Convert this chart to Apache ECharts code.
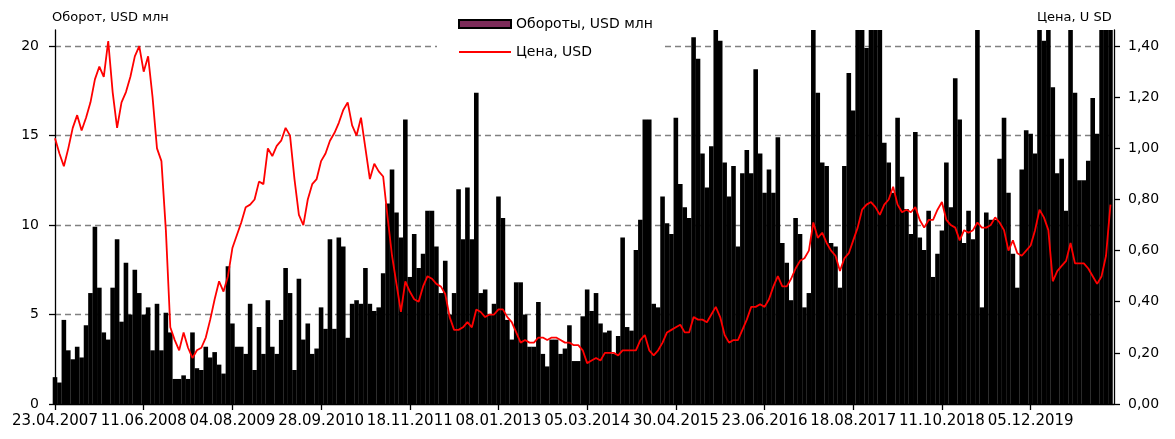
<!DOCTYPE html>
<html>
<head>
<meta charset="utf-8">
<script src="https://cdn.jsdelivr.net/npm/echarts@6/dist/echarts.min.js"></script>
<style>
  html, body { margin: 0; background: #fff; }
  #chart { width: 1175px; height: 439px; }
</style>
</head>
<body>
<div id="chart"></div>
<script>
// подписи дат под осью X (каждые 20 точек)
var tickLabels = ['23.04.2007', '11.06.2008', '04.08.2009', '28.09.2010', '18.11.2011', '08.01.2013',
                  '05.03.2014', '30.04.2015', '23.06.2016', '18.08.2017', '11.10.2018', '05.12.2019'];
var pointsPerTick = 20;

// Обороты, USD млн
var turnover = [
  1.5, 1.2, 4.7, 3.0, 2.5, 3.2, 2.6, 4.4, 6.2, 9.9,
  6.5, 4.0, 3.6, 6.5, 9.2, 4.6, 7.9, 5.0, 7.5, 6.2,
  5.0, 5.4, 3.0, 5.6, 3.0, 5.1, 4.0, 1.4, 1.4, 1.6,
  1.4, 4.0, 2.0, 1.9, 3.2, 2.6, 2.9, 2.2, 1.7, 7.7,
  4.5, 3.2, 3.2, 2.8, 5.6, 1.9, 4.3, 2.8, 5.8, 3.2,
  2.8, 4.7, 7.6, 6.2, 1.9, 7.0, 3.6, 4.5, 2.8, 3.1,
  5.4, 4.2, 9.2, 4.2, 9.3, 8.8, 3.7, 5.6, 5.8, 5.6,
  7.6, 5.6, 5.2, 5.4, 7.3, 11.2, 13.1, 10.7, 9.3, 15.9,
  7.1, 9.5, 7.6, 8.4, 10.8, 10.8, 8.8, 6.2, 8.0, 5.0,
  6.2, 12.0, 9.2, 12.1, 9.2, 17.4, 6.2, 6.4, 5.0, 5.6,
  11.6, 10.4, 4.7, 3.6, 6.8, 6.8, 5.0, 3.2, 3.2, 5.7,
  2.8, 2.1, 3.6, 3.6, 2.8, 3.1, 4.4, 2.4, 2.4, 4.9,
  6.4, 5.2, 6.2, 4.5, 4.0, 4.1, 2.8, 3.8, 9.3, 4.3,
  4.1, 8.6, 10.3, 15.9, 15.9, 5.6, 5.4, 11.6, 10.1, 9.5,
  16.0, 12.3, 11.0, 10.4, 20.5, 19.3, 14.0, 12.1, 14.4, 22,
  20.3, 13.5, 11.6, 13.3, 8.8, 12.9, 14.2, 12.9, 18.7, 14.0,
  11.8, 13.1, 11.8, 14.9, 9.0, 7.9, 5.8, 10.4, 9.5, 5.4,
  6.2, 22, 17.4, 13.5, 13.3, 9.0, 8.8, 6.5, 13.3, 18.5,
  16.4, 22, 22, 19.9, 22, 22, 22, 14.6, 13.5, 11.8,
  16.0, 12.7, 10.9, 9.5, 15.2, 9.3, 8.6, 10.8, 7.1, 8.4,
  9.7, 13.5, 11.0, 18.2, 15.9, 9.0, 10.8, 9.2, 22, 5.4,
  10.7, 10.3, 10.3, 13.7, 16.0, 11.8, 8.4, 6.5, 13.1, 15.3,
  15.1, 14.0, 22, 20.3, 22, 17.7, 12.9, 13.7, 10.8, 22,
  17.4, 12.5, 12.5, 13.6, 17.1, 15.1, 22, 22, 22
];

// Цена, USD
var price = [
  1.04, 0.98, 0.93, 1.00, 1.08, 1.13, 1.07, 1.12, 1.18, 1.27,
  1.32, 1.28, 1.42, 1.22, 1.08, 1.18, 1.22, 1.28, 1.36, 1.40,
  1.30, 1.36, 1.20, 1.00, 0.95, 0.68, 0.30, 0.25, 0.21, 0.28,
  0.22, 0.18, 0.21, 0.22, 0.26, 0.33, 0.41, 0.48, 0.44, 0.50,
  0.61, 0.66, 0.71, 0.77, 0.78, 0.80, 0.87, 0.86, 1.00, 0.97,
  1.01, 1.03, 1.08, 1.05, 0.88, 0.74, 0.70, 0.80, 0.86, 0.88,
  0.95, 0.98, 1.03, 1.06, 1.10, 1.15, 1.18, 1.09, 1.05, 1.12,
  1.00, 0.88, 0.94, 0.91, 0.89, 0.73, 0.58, 0.47, 0.36, 0.48,
  0.44, 0.41, 0.40, 0.46, 0.50, 0.49, 0.47, 0.46, 0.43, 0.34,
  0.29, 0.29, 0.30, 0.32, 0.30, 0.37, 0.36, 0.34, 0.35, 0.35,
  0.37, 0.37, 0.34, 0.32, 0.28, 0.24, 0.25, 0.24, 0.24, 0.26,
  0.26, 0.25, 0.26, 0.26, 0.25, 0.24, 0.24, 0.23, 0.23, 0.21,
  0.16, 0.17, 0.18, 0.17, 0.20, 0.20, 0.20, 0.19, 0.21, 0.21,
  0.21, 0.21, 0.25, 0.27, 0.21, 0.19, 0.21, 0.24, 0.28, 0.29,
  0.30, 0.31, 0.28, 0.28, 0.34, 0.33, 0.33, 0.32, 0.35, 0.38,
  0.34, 0.27, 0.24, 0.25, 0.25, 0.29, 0.33, 0.38, 0.38, 0.39,
  0.38, 0.41, 0.46, 0.50, 0.46, 0.46, 0.49, 0.53, 0.56, 0.57,
  0.60, 0.71, 0.65, 0.67, 0.63, 0.60, 0.58, 0.52, 0.57, 0.59,
  0.64, 0.69, 0.76, 0.78, 0.79, 0.77, 0.74, 0.78, 0.80, 0.85,
  0.78, 0.75, 0.76, 0.75, 0.77, 0.72, 0.69, 0.72, 0.72, 0.76,
  0.79, 0.72, 0.70, 0.69, 0.64, 0.68, 0.67, 0.68, 0.71, 0.69,
  0.69, 0.70, 0.73, 0.71, 0.68, 0.60, 0.64, 0.59, 0.58, 0.60,
  0.62, 0.68, 0.76, 0.73, 0.68, 0.48, 0.52, 0.54, 0.56, 0.63,
  0.55, 0.55, 0.55, 0.53, 0.50, 0.47, 0.50, 0.58, 0.78
];

var leftMax = 20.9;
var rightMax = 1.463;
var fontFamily = '"DejaVu Sans", sans-serif';

var chart = echarts.init(document.getElementById('chart'));

var barData = turnover.map(function (v, i) { return [i, v]; });
var lineData = price.map(function (v, i) { return [i, v]; });

var option = {
  animation: false,
  textStyle: { fontFamily: fontFamily, color: '#000' },
  grid: { left: 55, right: 61, top: 30, bottom: 35 },
  legend: {
    orient: 'vertical',
    left: 437,
    top: 8,
    padding: [9, 12, 9, 21],
    backgroundColor: '#fff',
    itemWidth: 52,
    itemHeight: 8,
    itemGap: 14,
    textStyle: { fontSize: 14, color: '#000', fontFamily: fontFamily },
    data: [
      { name: 'Обороты, USD млн', icon: 'rect',
        itemStyle: { color: '#7d2c5a', borderColor: '#000', borderWidth: 2 } },
      { name: 'Цена, USD', icon: 'path://M0,0H52V2H0Z',
        itemStyle: { color: '#ff0000', borderWidth: 0 } }
    ]
  },
  graphic: [
    { type: 'text', left: 52, top: 11,
      style: { text: 'Оборот, USD млн', font: '13px ' + fontFamily, fill: '#000' } },
    { type: 'text', left: 1037, top: 11,
      style: { text: 'Цена, U SD', font: '13px ' + fontFamily, fill: '#000' } }
  ],
  xAxis: {
    type: 'value',
    min: 0,
    max: 238.8,
    interval: pointsPerTick,
    axisLine: { lineStyle: { color: '#000', width: 1.3 } },
    axisTick: { length: 6, lineStyle: { color: '#000', width: 1.3 } },
    splitLine: { show: false },
    axisLabel: {
      margin: 10,
      fontSize: 15,
      color: '#000',
      showMaxLabel: false,
      formatter: function (v) {
        var k = Math.round(v / pointsPerTick);
        return (Math.abs(v - k * pointsPerTick) < 0.01 && tickLabels[k]) ? tickLabels[k] : '';
      }
    }
  },
  yAxis: [
    {
      type: 'value',
      min: 0,
      max: leftMax,
      interval: 5,
      position: 'left',
      axisLine: { show: true, lineStyle: { color: '#000', width: 1.3 } },
      axisTick: { show: true, length: 6, lineStyle: { color: '#000', width: 1.3 } },
      axisLabel: { margin: 16, fontSize: 14, color: '#000', showMaxLabel: false },
      splitLine: {
        show: true, showMinLine: false, showMaxLine: false,
        lineStyle: { color: '#808080', type: [6, 4], width: 1.3 }
      }
    },
    {
      type: 'value',
      min: 0,
      max: rightMax,
      interval: 0.2,
      position: 'right',
      axisLine: { show: true, lineStyle: { color: '#000', width: 1.3 } },
      axisTick: { show: true, length: 6, lineStyle: { color: '#000', width: 1.3 } },
      axisLabel: {
        margin: 14, fontSize: 14, color: '#000', showMaxLabel: false,
        formatter: function (v) { return v.toFixed(2).replace('.', ','); }
      },
      splitLine: { show: false }
    }
  ],
  series: [
    {
      name: 'Обороты, USD млн',
      type: 'bar',
      yAxisIndex: 0,
      barWidth: 4.6,
      itemStyle: { color: '#000' },
      data: barData
    },
    {
      name: 'Цена, USD',
      type: 'line',
      yAxisIndex: 1,
      symbol: 'none',
      lineStyle: { color: '#ff0000', width: 1.8 },
      itemStyle: { color: '#ff0000' },
      data: lineData
    }
  ]
};

chart.setOption(option);
</script>
</body>
</html>
